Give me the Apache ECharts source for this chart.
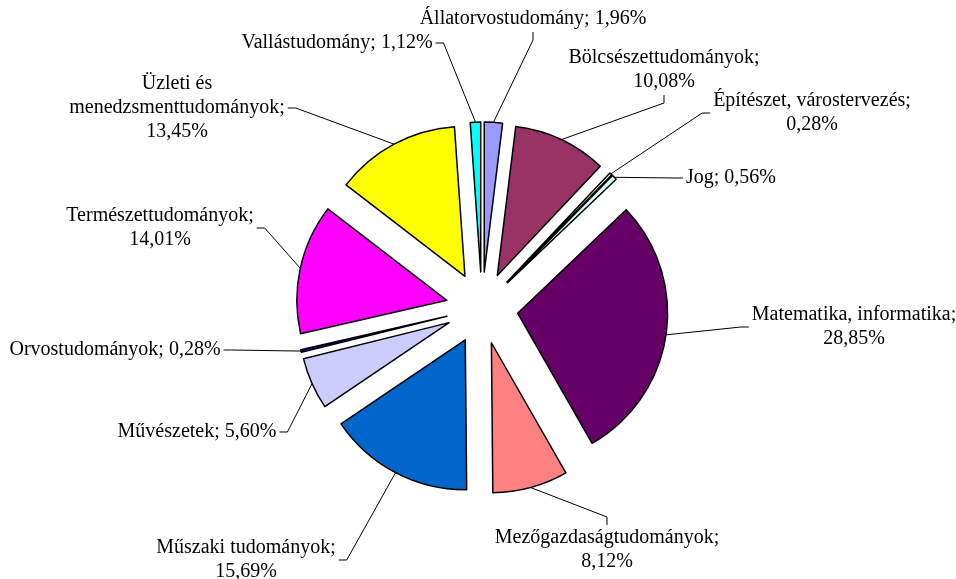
<!DOCTYPE html>
<html>
<head>
<meta charset="utf-8">
<script src="https://cdn.jsdelivr.net/npm/echarts@6/dist/echarts.min.js"></script>
<style>
  html, body { margin: 0; padding: 0; background: #fff; }
  #chart { width: 956px; height: 579px; }
</style>
</head>
<body>
<div id="chart"></div>
<script>
const categories = [
    'Állatorvostudomány', 'Bölcsészettudományok', 'Építészet, várostervezés', 'Jog',
    'Matematika, informatika', 'Mezőgazdaságtudományok', 'Műszaki tudományok', 'Művészetek',
    'Orvostudományok', 'Természettudományok', 'Üzleti és menedzsmenttudományok', 'Vallástudomány'
];
const values = [1.96, 10.08, 0.28, 0.56, 28.85, 8.12, 15.69, 5.60, 0.28, 14.01, 13.45, 1.12];
// label text, broken into lines as in the reference
const labelTexts = [
    'Állatorvostudomány; 1,96%',
    'Bölcsészettudományok;\n10,08%',
    'Építészet, várostervezés;\n0,28%',
    'Jog; 0,56%',
    'Matematika, informatika;\n28,85%',
    'Mezőgazdaságtudományok;\n8,12%',
    'Műszaki tudományok;\n15,69%',
    'Művészetek; 5,60%',
    'Orvostudományok; 0,28%',
    'Természettudományok;\n14,01%',
    'Üzleti és\nmenedzsmenttudományok;\n13,45%',
    'Vallástudomány; 1,12%'
];

const colors = ['#9999FF', '#993366', '#FFFFCC', '#CCFFFF', '#660066', '#FF8080',
    '#0066CC', '#CCCCFF', '#000080', '#FF00FF', '#FFFF00', '#00FFFF'];
// label block centres (placed by hand in the original) and the side the leader leaves from
const labelCenters = [
    [533, 19], [664, 70], [812, 113], [731, 178], [854, 327], [607, 550],
    [246, 560], [197, 432], [115, 350], [160, 228], [177, 108], [337, 43]
];
const labelSides = ['bottom', 'bottom', 'left', 'left', 'left', 'top',
    'right', 'right', 'right', 'right', 'right', 'right'];

const CX = 482, CY = 308, R = 150, EXPLODE = 36, TICK = 8, GAP = 3;

// exploded pie: one series per slice, each shifted along its own bisector
const total = values.reduce((a, b) => a + b, 0);
let cum = 0;
const mids = values.map(v => {
    const m = (cum + v / 2) / total * Math.PI * 2;
    cum += v;
    return m;
});
const centers = mids.map(m => [CX + EXPLODE * Math.sin(m), CY - EXPLODE * Math.cos(m)]);

const sideDir = { left: [-1, 0], right: [1, 0], top: [0, -1], bottom: [0, 1] };

function layoutLabel(p) {
    const i = p.seriesIndex;
    const [lx, ly] = labelCenters[i];
    const w = p.labelRect.width, h = p.labelRect.height;
    const d = sideDir[labelSides[i]];
    const anchor = [lx + d[0] * (w / 2 + GAP), ly + d[1] * (h / 2 + 1)];
    const knee = [anchor[0] + d[0] * TICK, anchor[1] + d[1] * TICK];
    // Excel attaches the leader at the middle of the slice's arc
    const c = centers[i];
    const arc = [c[0] + R * Math.sin(mids[i]), c[1] - R * Math.cos(mids[i])];
    return {
        x: lx,
        y: ly,
        align: 'center',
        verticalAlign: 'middle',
        labelLinePoints: [arc, knee, anchor]
    };
}

const dom = document.getElementById('chart');
const myChart = echarts.init(dom);

const series = categories.map((_, i) => ({
    type: 'pie',
    center: centers[i],
    radius: [0, R],
    startAngle: 90,
    clockwise: true,
    silent: true,
    avoidLabelOverlap: false,
    emphasis: { disabled: true },
    label: {
        position: 'outside',
        color: '#000',
        fontFamily: 'Liberation Serif',
        fontSize: 20,
        lineHeight: 24,
        formatter: p => labelTexts[p.dataIndex]
    },
    labelLine: {
        length: 10,
        length2: TICK,
        smooth: false,
        lineStyle: { color: '#000', width: 1 }
    },
    labelLayout: layoutLabel,
    data: categories.map((name, j) => ({
        name: name,
        value: values[j],
        itemStyle: j === i
            ? { color: colors[j], borderColor: '#000', borderWidth: 1.5 }
            : { color: 'rgba(0,0,0,0)', borderWidth: 0 },
        label: { show: j === i },
        labelLine: { show: j === i }
    }))
}));

myChart.setOption({ backgroundColor: '#fff', animation: false, series: series });
window.addEventListener('resize', () => myChart.resize());
</script>
</body>
</html>
